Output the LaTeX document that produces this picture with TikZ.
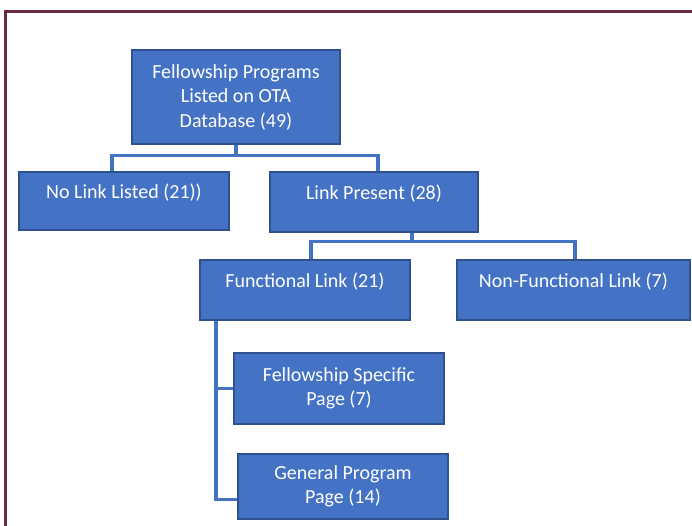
\documentclass[tikz,border=0pt]{standalone}
\usepackage{fontspec}
\setmainfont{Carlito}
\usetikzlibrary{calc}
\definecolor{boxfill}{HTML}{4472C4}
\definecolor{boxline}{HTML}{2F528F}
\definecolor{framecol}{HTML}{6A2A44}
\tikzset{
  box/.style={draw=boxline, line width=1.3pt, fill=boxfill, text=white, align=center, inner sep=0pt, font=\fontsize{20}{24.5}\selectfont},
  conn/.style={draw=boxfill, line width=3.2pt},
  lbl/.style={text=white, font=\fontsize{20}{24.5}\selectfont}
}
\begin{document}
\begin{tikzpicture}[x=1pt,y=-1pt]
\useasboundingbox (0,0) rectangle (692,526);
\draw[framecol, line width=3pt] (5,526) -- (5,12) -- (692,12);
\node[box, minimum width=208pt, minimum height=94pt] (top) at (236,97) {Fellowship Programs\\Listed on OTA\\Database (49)};
\node[box, minimum width=210pt, minimum height=58pt, label={[lbl, yshift=8pt]center:No Link Listed (21))}] (nolink) at (124,201) {};
\node[box, minimum width=208pt, minimum height=60pt, label={[lbl, yshift=8pt]center:Link Present (28)}] (linkp) at (374,202) {};
\node[box, minimum width=210pt, minimum height=60pt, label={[lbl, yshift=8pt]center:Functional Link (21)}] (func) at (305,290) {};
\node[box, minimum width=233pt, minimum height=60pt, label={[lbl, yshift=8pt]center:Non-Functional Link (7)}] (nonfunc) at (573.5,290) {};
\node[box, minimum width=210pt, minimum height=71pt] (spec) at (339,388.5) {Fellowship Specific\\Page (7)};
\node[box, minimum width=210pt, minimum height=65pt] (gen) at (343,486.5) {General Program\\Page (14)};
% connectors
\coordinate (b1) at ([yshift=-11pt]top.south);
\draw[conn] (top.south) -- (b1);
\draw[conn] ([xshift=-12pt]nolink.north) |- (b1) -| ([xshift=4pt]linkp.north);
\coordinate (l0) at ([xshift=38pt]linkp.south);
\coordinate (b2) at ([yshift=-9pt]l0);
\draw[conn] (l0) -- (b2);
\draw[conn] ([xshift=6pt]func.north) |- (b2) -| ([xshift=1.5pt]nonfunc.north);
\coordinate (f1) at ([xshift=-89pt]func.south);
\draw[conn] (f1) |- ([yshift=-13pt]gen.west);
\draw[conn] (spec.west) -- (spec.west -| f1);
\end{tikzpicture}
\end{document}
